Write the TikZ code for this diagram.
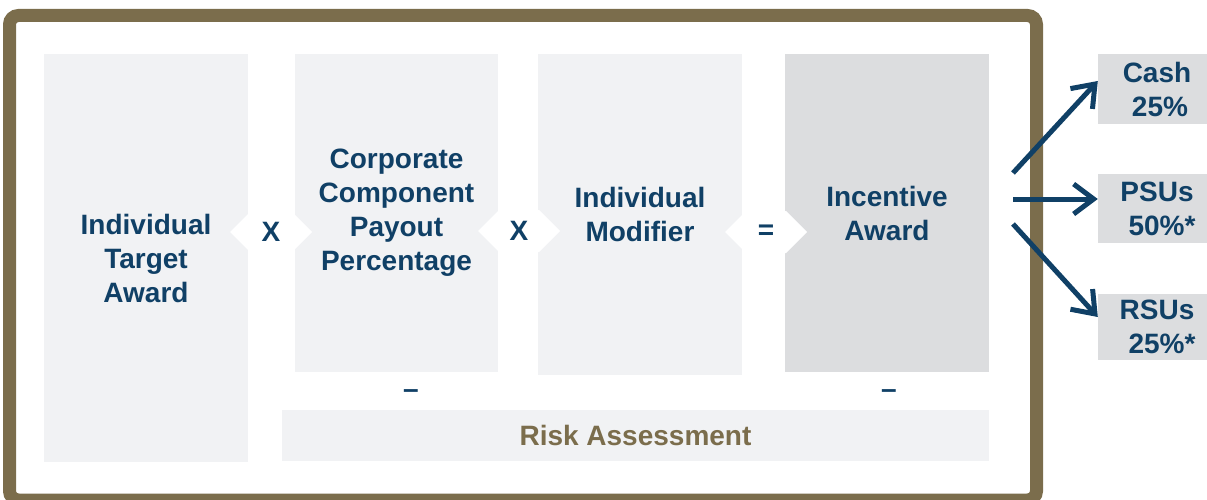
\documentclass[tikz,border=0pt]{standalone}
\usepackage{fontspec}
\setmainfont{Liberation Sans}
\usetikzlibrary{arrows.meta,shapes.symbols}
\definecolor{navy}{HTML}{104066}
\definecolor{olive}{HTML}{7B6D4C}
\definecolor{pale}{HTML}{F1F2F4}
\definecolor{mid}{HTML}{DCDDDF}
\tikzset{
    >={Straight Barb[length=20pt,width=30pt]},
    award/.style={
        every node/.append style={font=\fontsize{28}{34}\selectfont\bfseries,text=navy,inner sep=0pt},
        box/.append style={rectangle,fill=pale,align=center,minimum width=204pt},
        keybox/.append style={box,fill=mid},
        share/.append style={rectangle,fill=mid,align=center,minimum width=118pt},
        mult/.append style={signal,signal to=west and east,signal pointer angle=90,fill=white,minimum width=82pt,minimum height=42pt},
        frame/.append style={draw=olive,line width=13pt,rounded corners=9pt},
        flow/.append style={draw=navy,line width=5pt,->}
    }
}
\begin{document}
\begin{tikzpicture}[award,x=1pt,y=-1pt]
    \useasboundingbox (0,0) rectangle (1207,500);
    \clip (0,0) rectangle (1207,500);
    \node[box,minimum height=408pt] (target) at (146,258) {Individual\\Target\\Award};
    \node[box,minimum width=203pt,minimum height=318pt] (corp) at (396.5,213) {Corporate\\Component\\Payout\\Percentage};
    \node[box,minimum height=321pt] (modifier) at (640,214.5) {Individual\\Modifier};
    \node[keybox,minimum height=318pt] (incentive) at (887,213) {Incentive\\Award};
    \node[mult] (times1) at (271,232) {X};
    \node[mult] (times2) at (519,231) {X};
    \node[mult] (equals) at (766,232) {=};
    \node (minus1) at (411,394) {--};
    \node (minus2) at (889,394) {--};
    \node[box,minimum width=707pt,minimum height=51pt,text=olive] (risk) at (635.5,435.5) {Risk Assessment};
    \draw[frame] (9.5,15.5) rectangle (1036.5,500);
    % payout split
    \node[share,minimum height=70pt] (cash) at (1157,89) {Cash\\\hspace*{6pt}25\%};
    \node[share,minimum height=69pt] (psu) at (1157,208.5) {PSUs\\\hspace*{10pt}50\%*};
    \node[share,minimum height=66pt] (rsu) at (1157,327) {RSUs\\\hspace*{10pt}25\%*};
    \coordinate (up) at (1013,173);
    \coordinate (mid) at (1013,199);
    \coordinate (down) at (1013,224);
    \draw[flow] (up) -- (cash.west |- 0,81);
    \draw[flow] (mid) -- (psu.west |- 0,199);
    \draw[flow] (down) -- (rsu.west |- 0,317);
\end{tikzpicture}
\end{document}
